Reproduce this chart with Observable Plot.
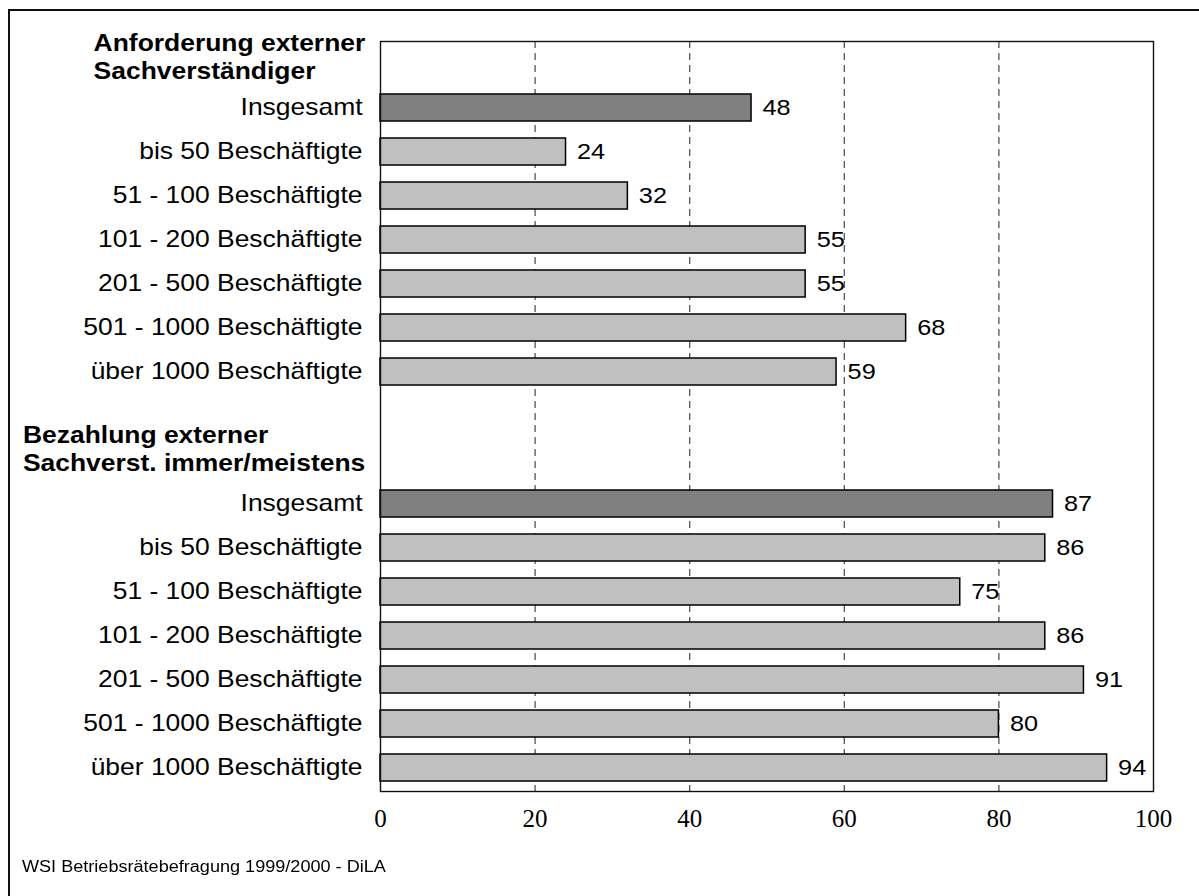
<!DOCTYPE html>
<html>
<head>
<meta charset="utf-8">
<script src="https://cdn.jsdelivr.net/npm/d3@7"></script>
<script src="https://cdn.jsdelivr.net/npm/@observablehq/plot@0.6"></script>
<style>
  html, body { margin: 0; padding: 0; background: #fff; overflow: hidden; }
  #outer { position: fixed; left: 8px; top: 9px; width: 1400px; height: 1100px;
           border-left: 2px solid #111; border-top: 2px solid #111; pointer-events: none; }
  #chart svg { display: block; }
  #chart g[aria-label^="x-axis"], #chart g[aria-label^="x-axis"] text {
    font-family: "Liberation Serif", "Times New Roman", serif; font-size: 25px; fill: #000;
  }
  #caption { margin-top: 17px; padding-left: 22px; font: 16px/20px "Liberation Sans", Arial, sans-serif;
             color: #000; transform: scaleX(1.13); transform-origin: 22px 0; white-space: nowrap; }
</style>
</head>
<body>
<div id="outer"></div>
<div id="chart"></div>
<div id="caption">WSI Betriebsrätebefragung 1999/2000 - DiLA</div>
<script>
const groups = ["Anforderung externer\nSachverständiger", "Bezahlung externer\nSachverst. immer/meistens"];
const categories = ["Insgesamt", "bis 50 Beschäftigte", "51 - 100 Beschäftigte", "101 - 200 Beschäftigte",
  "201 - 500 Beschäftigte", "501 - 1000 Beschäftigte", "über 1000 Beschäftigte"];
const anforderung = [48, 24, 32, 55, 55, 68, 59];
const bezahlung = [87, 86, 75, 86, 91, 80, 94];
const xTicks = [0, 20, 40, 60, 80, 100];

const STRETCH = 1.15;
const domainY = ["H1", ...categories.map(c => "A:" + c), "gap", "H2", ...categories.map(c => "B:" + c)];
const bars = [
  ...categories.map((c, i) => ({key: "A:" + c, cat: c, value: anforderung[i]})),
  ...categories.map((c, i) => ({key: "B:" + c, cat: c, value: bezahlung[i]}))
];
const headers = [{key: "H1", text: groups[0]}, {key: "H2", text: groups[1]}];

// measure header widths for left-aligned header blocks whose widest line ends near the axis
const ctx = document.createElement("canvas").getContext("2d");
ctx.font = "bold 23px 'Liberation Sans'";
const headerDx = headers.map(h => -(15 + STRETCH * d3.max(h.text.split("\n"), l => ctx.measureText(l).width)));

const plot = Plot.plot({
  width: 1199,
  height: 840,
  marginLeft: 380,
  marginRight: 46,
  marginTop: 41,
  marginBottom: 49,
  style: {fontFamily: "'Liberation Sans', Arial, sans-serif", fontSize: "22px", color: "#000", background: "#fff"},
  x: {domain: [0, 100], ticks: xTicks, tickSize: 0, tickPadding: 18, label: null},
  y: {domain: domainY, paddingInner: 0.38, paddingOuter: 0.19, axis: null},
  marks: [
    Plot.ruleX(xTicks.filter(t => t > 0 && t < 100), {stroke: "#555", strokeWidth: 1.3, strokeDasharray: "7,5"}),
    Plot.barX(bars, {x: "value", y: "key", fill: d => d.cat === "Insgesamt" ? "#808080" : "#c0c0c0",
      stroke: "#000", strokeWidth: 1.5}),
    Plot.frame({stroke: "#111", strokeWidth: 1.4}),
    Plot.text(bars, {x: "value", y: "key", text: d => String(d.value), textAnchor: "start", dx: 11,
      fontSize: 22, fill: "#000"}),
    Plot.text(bars, {x: () => 0, y: "key", text: "cat", textAnchor: "end", dx: -18, fontSize: 23, fill: "#000"}),
    Plot.text([headers[0]], {x: () => 0, y: "key", text: "text", textAnchor: "start", lineAnchor: "middle",
      lineHeight: 1.2, dx: headerDx[0], dy: -8, fontSize: 23, fontWeight: "bold", fill: "#000"}),
    Plot.text([headers[1]], {x: () => 0, y: "key", text: "text", textAnchor: "start", lineAnchor: "middle",
      lineHeight: 1.2, dx: headerDx[1], dy: -12, fontSize: 23, fontWeight: "bold", fill: "#000"})
  ]
});
document.getElementById("chart").appendChild(plot);

// horizontally widen the sans-serif texts like in the original picture
d3.select(plot).selectAll('g[aria-label="text"] text').each(function() {
  const t = this.getAttribute("transform");
  if (t && t.includes("translate")) this.setAttribute("transform", t + ` scale(${STRETCH},1)`);
});
</script>
</body>
</html>
